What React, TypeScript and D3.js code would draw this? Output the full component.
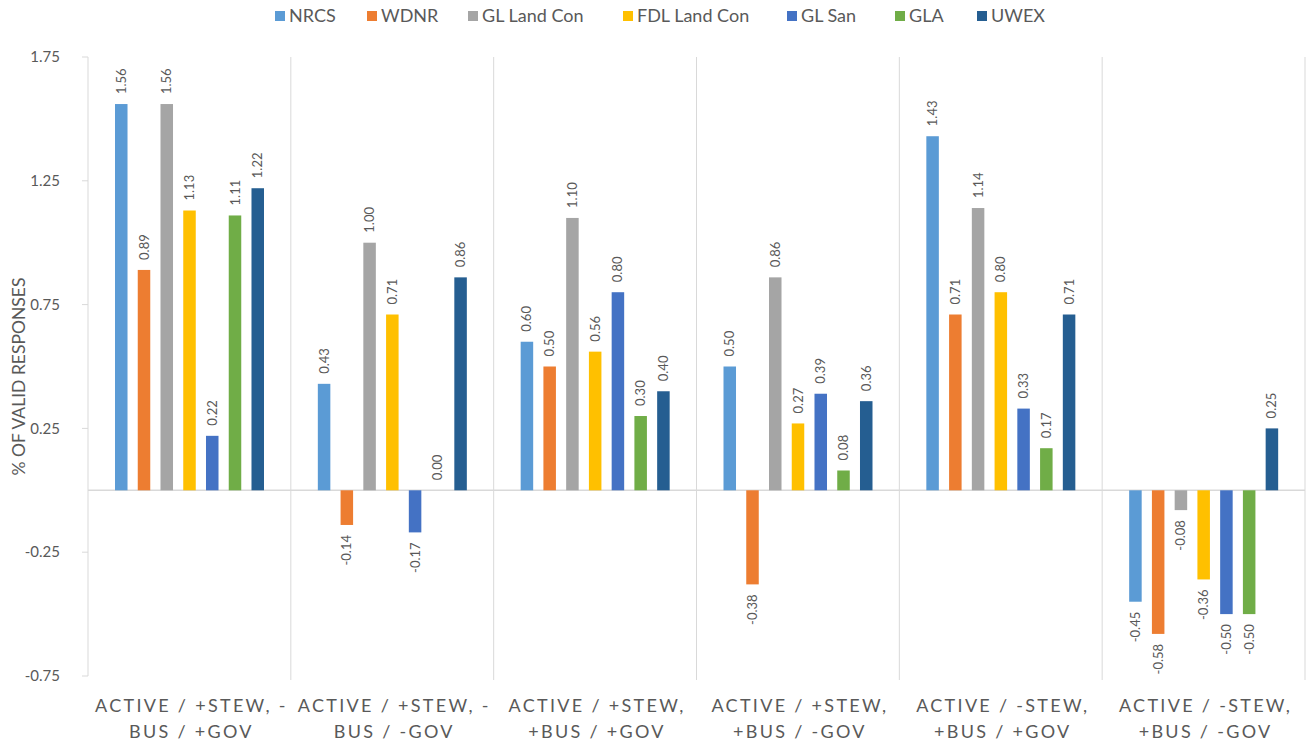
import React from "react";
import * as d3 from "d3";

const categories = [
  ["ACTIVE / +STEW, -", "BUS / +GOV"],
  ["ACTIVE / +STEW, -", "BUS / -GOV"],
  ["ACTIVE / +STEW,", "+BUS / +GOV"],
  ["ACTIVE / +STEW,", "+BUS / -GOV"],
  ["ACTIVE / -STEW,", "+BUS / +GOV"],
  ["ACTIVE / -STEW,", "+BUS / -GOV"],
];

const seriesNames = ["NRCS", "WDNR", "GL Land Con", "FDL Land Con", "GL San", "GLA", "UWEX"];
const seriesColors = ["#5B9BD5", "#ED7D31", "#A5A5A5", "#FFC000", "#4472C4", "#70AD47", "#255E91"];

const nrcs = [1.56, 0.43, 0.6, 0.5, 1.43, -0.45];
const wdnr = [0.89, -0.14, 0.5, -0.38, 0.71, -0.58];
const glLandCon = [1.56, 1.0, 1.1, 0.86, 1.14, -0.08];
const fdlLandCon = [1.13, 0.71, 0.56, 0.27, 0.8, -0.36];
const glSan = [0.22, -0.17, 0.8, 0.39, 0.33, -0.5];
const gla = [1.11, 0.0, 0.3, 0.08, 0.17, -0.5];
const uwex = [1.22, 0.86, 0.4, 0.36, 0.71, 0.25];

const seriesValues = [nrcs, wdnr, glLandCon, fdlLandCon, glSan, gla, uwex];

const yTicks = [1.75, 1.25, 0.75, 0.25, -0.25, -0.75];

const legendX = [275, 367, 468, 623, 787, 895, 977];

// excel style number, plain hyphen for minus
const fmt = (v: number) => d3.format(".2f")(v).replace("\u2212", "-");

export default function App() {
  const width = 1307;
  const height = 744;
  const margin = { top: 57, right: 2, bottom: 68, left: 88 };

  const y = d3.scaleLinear().domain([-0.75, 1.75]).range([height - margin.bottom, margin.top]);
  const x0 = d3
    .scaleBand<number>()
    .domain(d3.range(categories.length))
    .range([margin.left, width - margin.right]);
  const x1 = d3
    .scaleBand<number>()
    .domain(d3.range(seriesNames.length))
    .range([27, 176])
    .paddingInner(0.45)
    .paddingOuter(0);

  const font = "Lato, 'Open Sans', sans-serif";
  const textColor = "#595959";
  const gridColor = "#D9D9D9";

  return (
    <svg
      width={width}
      height={height}
      style={{ position: "absolute", left: 0, top: 0, background: "#fff" }}
      fontFamily={font}
    >
      {/* legend */}
      {seriesNames.map((s, i) => (
        <g key={s} transform={`translate(${legendX[i]},16)`}>
          <rect x={0} y={-5} width={10} height={10} fill={seriesColors[i]} />
          <text x={14} y={0} dy="0.35em" fontSize={18} fill={textColor}>
            {s}
          </text>
        </g>
      ))}

      {/* y axis */}
      <line x1={margin.left} x2={margin.left} y1={y(1.75)} y2={y(-0.75)} stroke={gridColor} />
      {yTicks.map((t) => (
        <g key={t} transform={`translate(${margin.left},${y(t)})`}>
          <line x1={-6} x2={0} stroke={gridColor} />
          <text x={-28} dy="0.35em" textAnchor="end" fontSize={15} fill={textColor}>
            {fmt(t)}
          </text>
        </g>
      ))}
      <text
        transform={`translate(25,${(y(1.75) + y(-0.75)) / 2 + 10}) rotate(-90)`}
        textAnchor="middle"
        fontSize={17.5}
        fill={textColor}
      >
        % OF VALID RESPONSES
      </text>

      {/* category separators */}
      {d3.range(1, categories.length + 1).map((i) => {
        const sx = i < categories.length ? x0(i)! : width - margin.right;
        return <line key={i} x1={sx} x2={sx} y1={y(1.75)} y2={y(-0.75) + 4} stroke={gridColor} />;
      })}

      {/* zero line */}
      <line x1={margin.left} x2={width - margin.right} y1={y(0)} y2={y(0)} stroke={gridColor} strokeWidth={1.5} />

      {/* bars */}
      {categories.map((c, ci) => (
        <g key={ci} transform={`translate(${x0(ci)},0)`}>
          {seriesValues.map((vals, si) => {
            const v = vals[ci];
            const bx = x1(si)!;
            const top = y(Math.max(0, v));
            const h = Math.abs(y(v) - y(0));
            const cx = bx + x1.bandwidth() / 2;
            const ly = v >= 0 ? y(v) - 10 : y(v) + 10;
            return (
              <g key={si}>
                <rect x={bx} y={top} width={x1.bandwidth()} height={h} fill={seriesColors[si]} />
                <text
                  transform={`translate(${cx},${ly}) rotate(-90)`}
                  textAnchor={v >= 0 ? "start" : "end"}
                  dy="0.35em"
                  fontSize={13}
                  fill={textColor}
                >
                  {fmt(v)}
                </text>
              </g>
            );
          })}
        </g>
      ))}

      {/* category labels */}
      {categories.map((lines, ci) => (
        <text
          key={ci}
          x={x0(ci)! + x0.bandwidth() / 2}
          textAnchor="middle"
          fontSize={18}
          letterSpacing={2.3}
          fill={textColor}
        >
          {lines.map((l, li) => (
            <tspan key={li} x={x0(ci)! + x0.bandwidth() / 2 + 2} y={712 + li * 26}>
              {l}
            </tspan>
          ))}
        </text>
      ))}
    </svg>
  );
}
